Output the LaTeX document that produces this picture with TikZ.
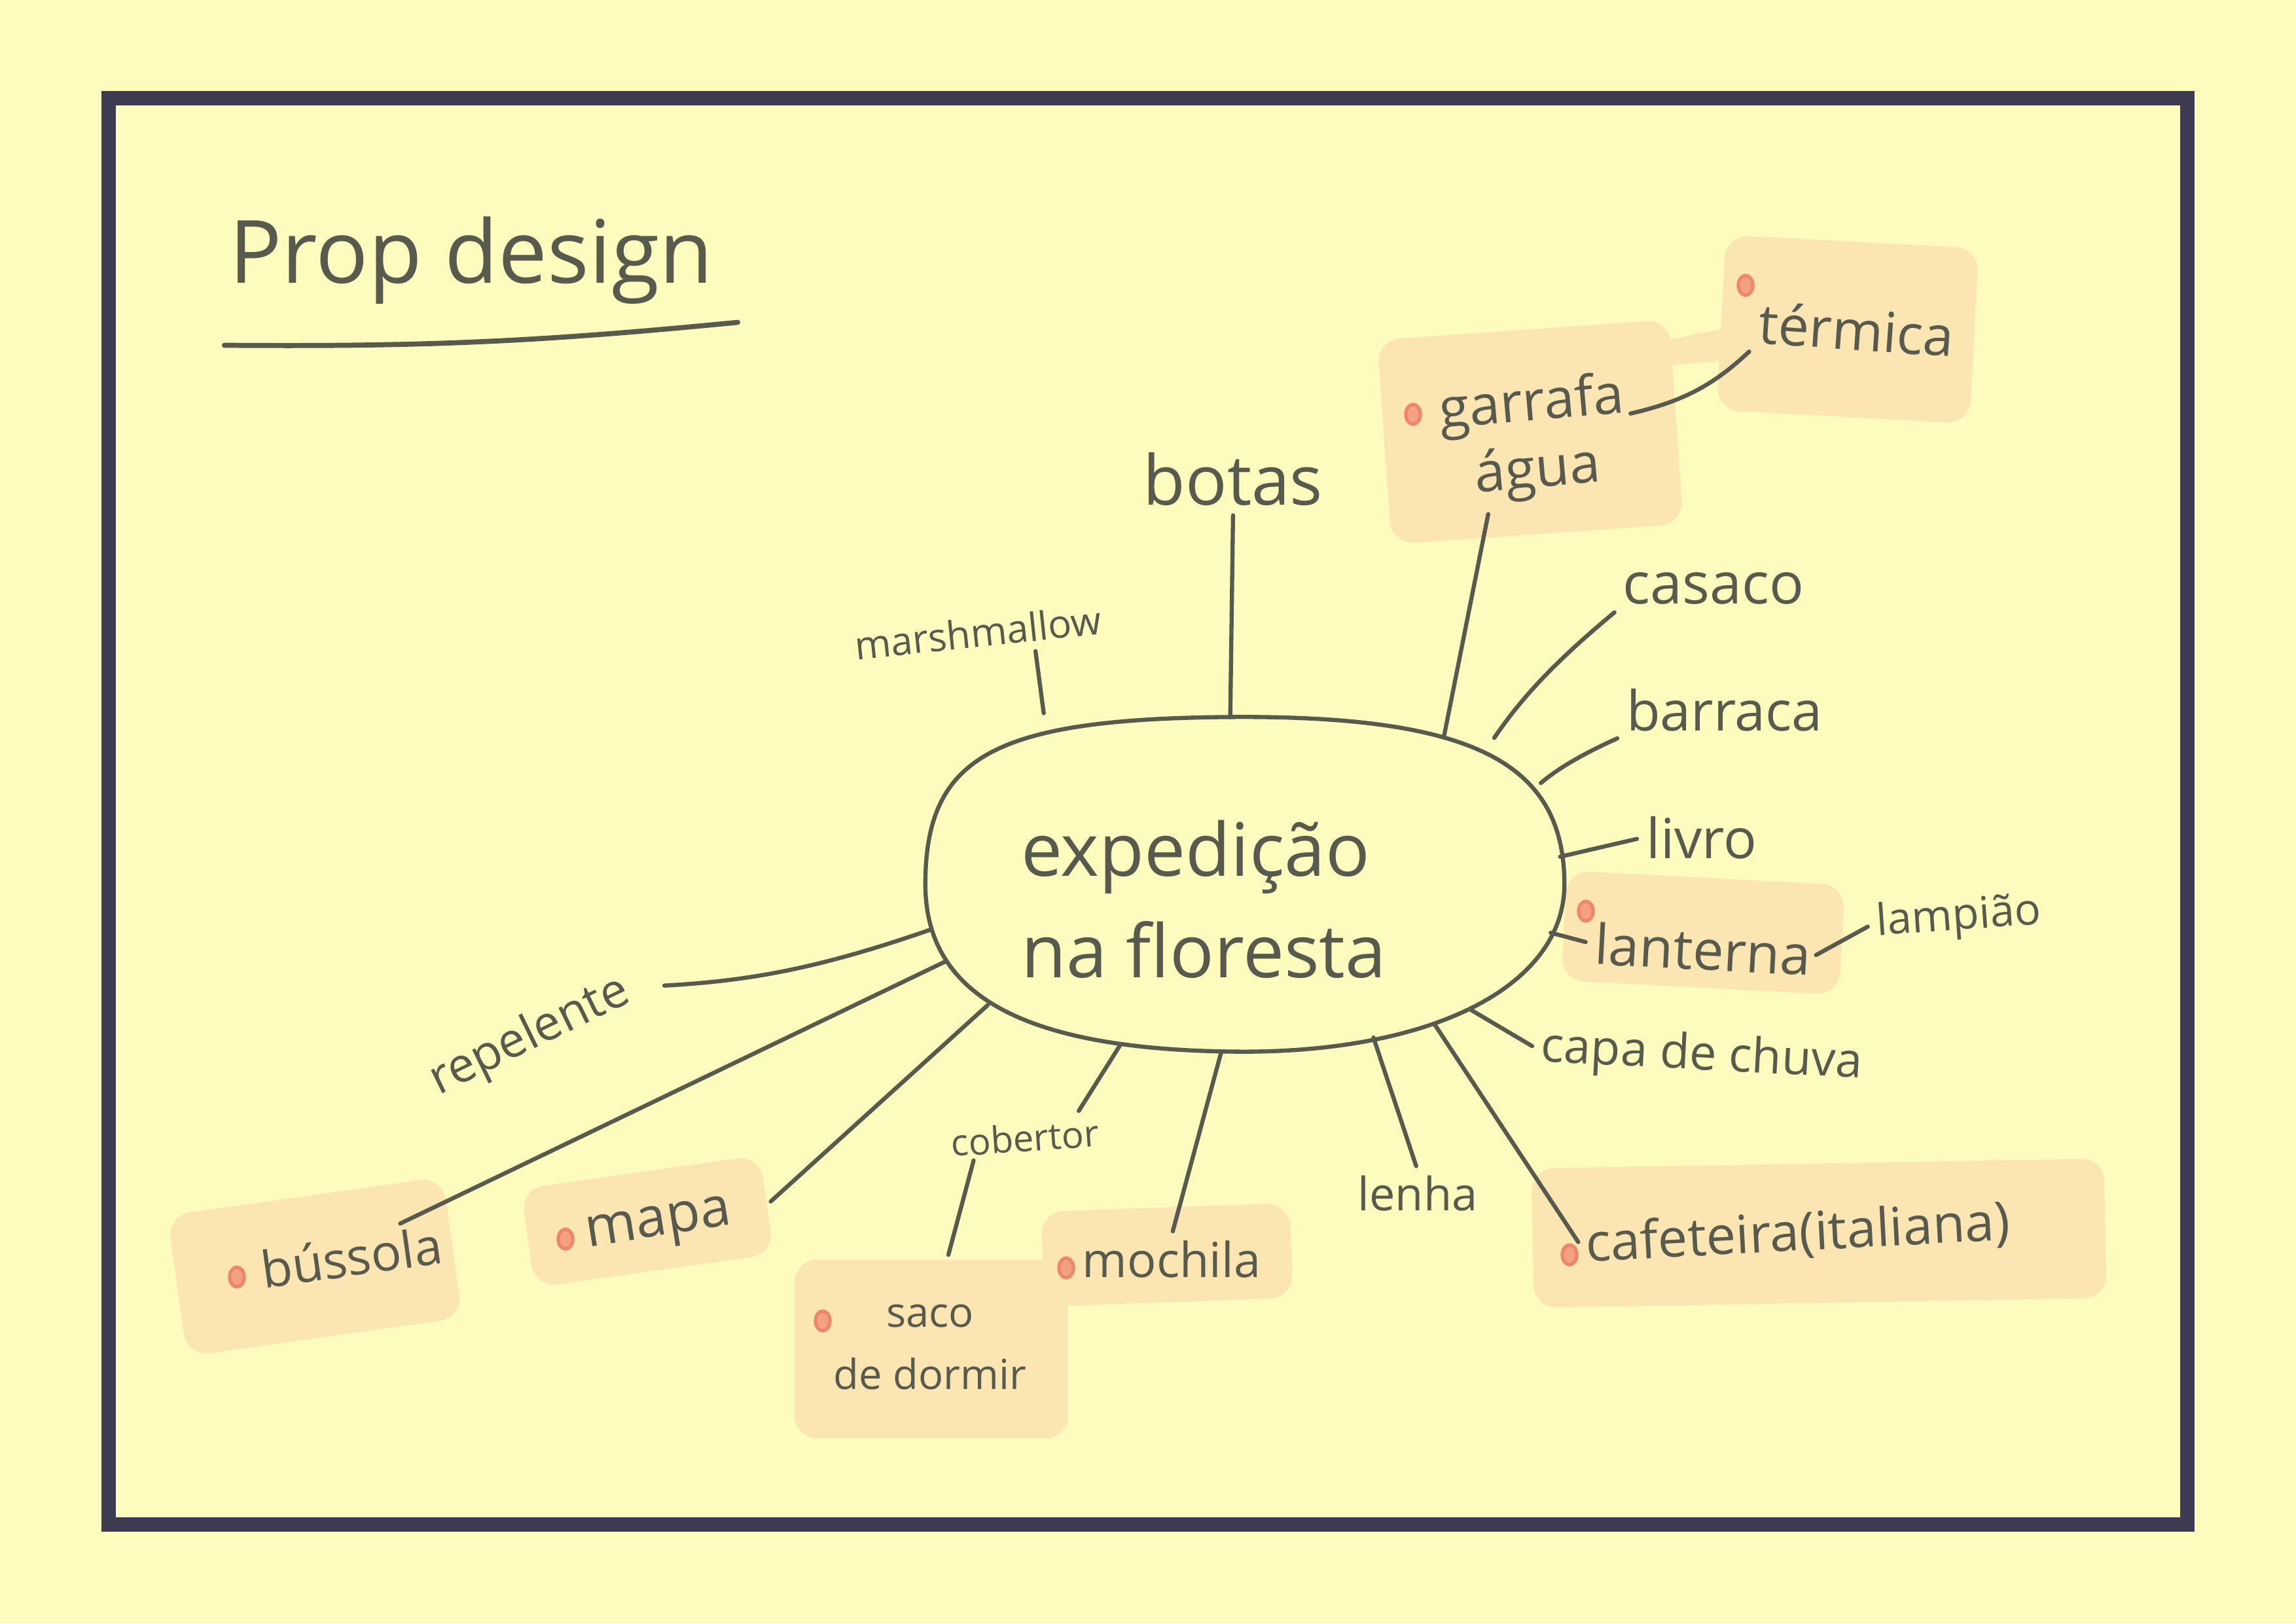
\documentclass[tikz,border=0pt]{standalone}
\usepackage{fontspec}
\setmainfont{Open Sans}
\usetikzlibrary{shapes.geometric}

\definecolor{paper}{HTML}{FEFBBE}
\definecolor{framecol}{HTML}{3E3A52}
\definecolor{ink}{HTML}{585A4D}
\definecolor{hl}{HTML}{FBE5B3}
\definecolor{pincol}{HTML}{EE866C}

\begin{document}
\begin{tikzpicture}

% Styles
\tikzset{
    lbl/.style={text=ink, inner sep=2pt},
    hub/.style={ellipse, minimum width=9.75cm, minimum height=5.1cm, inner sep=0pt},
    hubline/.style={draw=ink, line width=1.8pt},
    hubtext/.style={lbl, align=left, font=\fontsize{32}{44}\selectfont},
    hlbox/.style={fill=hl, rounded corners=0.35cm, inner sep=0pt},
    pin/.style={ellipse, draw=pincol, fill=pincol!70!hl, line width=1.5pt, minimum width=0.22cm, minimum height=0.3cm, inner sep=0pt},
    link/.style={draw=ink, line width=1.8pt, line cap=round, shorten >=2pt}
}

% Paper and frame
\useasboundingbox (0,0) rectangle (35.08,24.80);
\fill[paper] (0,0) rectangle (35.08,24.80);
\draw[framecol, line width=0.22cm] (1.66,1.51) rectangle (33.42,23.30);

% Title
\node[lbl, font=\fontsize{38}{44}\selectfont] (title) at (7.20,20.82) {Prop design};
\draw[ink, line width=2.2pt, line cap=round] ([yshift=-0.55cm]title.south west) to[bend right=3] ([xshift=0.3cm, yshift=-0.2cm]title.south east);

% Highlight boxes
\node[hlbox, minimum width=4.47cm, minimum height=3.13cm, rotate=4] (bxgarrafa) at (23.38,18.20) {};
\node[hlbox, minimum width=3.87cm, minimum height=2.68cm, rotate=-3] (bxtermica) at (28.23,19.77) {};
\fill[hl] (25.50,19.61) -- (26.45,19.80) -- (26.45,19.30) -- (25.50,19.22) -- cycle;
\node[hlbox, minimum width=4.25cm, minimum height=1.68cm, rotate=-3] (bxlanterna) at (26.02,10.55) {};
\node[hlbox, minimum width=8.75cm, minimum height=2.13cm, rotate=1] (bxcafeteira) at (27.79,5.96) {};
\node[hlbox, minimum width=3.80cm, minimum height=1.45cm, rotate=2] (bxmochila) at (17.83,5.63) {};
\node[hlbox, minimum width=4.18cm, minimum height=2.73cm] (bxsaco) at (14.23,4.19) {};
\node[hlbox, minimum width=3.69cm, minimum height=1.52cm, rotate=8] (bxmapa) at (9.89,6.14) {};
\node[hlbox, minimum width=4.25cm, minimum height=2.17cm, rotate=8] (bxbussola) at (4.81,5.45) {};

% Centre
\node[hub] (hub) at (19.02,11.29) {};
\draw[hubline] (hub.east) .. controls (23.90,13.13) and (22.53,13.84) .. (hub.north)
    .. controls (15.22,13.84) and (14.14,13.28) .. (hub.west)
    .. controls (14.14,9.56) and (15.70,8.74) .. (hub.south)
    .. controls (21.95,8.74) and (23.90,9.76) .. (hub.east) -- cycle;
\node[hubtext] (hubtxt) at (18.39,11.06) {expedição\\na floresta};

% Labels
\node[lbl, font=\fontsize{30}{36}\selectfont] (botas) at (18.84,17.48) {botas};
\node[lbl, font=\fontsize{17}{20}\selectfont, rotate=6] (marsh) at (14.94,15.14) {marshmallow};
\node[lbl, font=\fontsize{24}{29}\selectfont, align=center, rotate=5] (garrafa) at (23.45,18.09) {garrafa\\água};
\node[lbl, font=\fontsize{24}{29}\selectfont, rotate=-4] (termica) at (28.37,19.77) {térmica};
\node[lbl, font=\fontsize{25}{30}\selectfont] (casaco) at (26.18,15.81) {casaco};
\node[lbl, font=\fontsize{24}{29}\selectfont] (barraca) at (26.35,13.95) {barraca};
\node[lbl, font=\fontsize{24}{29}\selectfont] (livro) at (26.00,12.00) {livro};
\node[lbl, font=\fontsize{24}{29}\selectfont, rotate=-3] (lanterna) at (26.02,10.30) {lanterna};
\node[lbl, font=\fontsize{19}{23}\selectfont, rotate=4] (lampiao) at (29.93,10.77) {lampião};
\node[lbl, font=\fontsize{21}{25}\selectfont, rotate=-3] (capa) at (26.00,8.65) {capa de chuva};
\node[lbl, font=\fontsize{23}{28}\selectfont, rotate=3] (cafeteira) at (27.47,5.94) {cafeteira(italiana)};
\node[lbl, font=\fontsize{20}{24}\selectfont] (lenha) at (21.66,6.57) {lenha};
\node[lbl, font=\fontsize{21}{25}\selectfont] (mochila) at (17.90,5.56) {mochila};
\node[lbl, font=\fontsize{16}{19}\selectfont, rotate=4] (cobertor) at (15.66,7.42) {cobertor};
\node[lbl, font=\fontsize{18}{27}\selectfont, align=center] (saco) at (14.21,4.22) {saco\\de dormir};
\node[lbl, font=\fontsize{24}{29}\selectfont, rotate=9] (mapa) at (10.07,6.05) {mapa};
\node[lbl, font=\fontsize{22}{26}\selectfont, rotate=8] (bussola) at (5.37,5.60) {bússola};
\node[lbl, font=\fontsize{21}{25}\selectfont, rotate=26] (repelente) at (8.10,8.96) {repelente};

% Pins
\node[pin] (p1) at (21.59,18.47) {};
\node[pin] (p2) at (26.67,20.44) {};
\node[pin] (p3) at (24.23,10.88) {};
\node[pin] (p4) at (23.98,5.63) {};
\node[pin] (p5) at (16.29,5.43) {};
\node[pin] (p6) at (12.57,4.62) {};
\node[pin] (p7) at (8.64,5.87) {};
\node[pin] (p8) at (3.62,5.29) {};

% Links
\draw[link] (hub.95) -- (botas.south);
\draw[link, shorten <=0.6cm] (hub.146) -- (marsh.-20);
\draw[link, shorten <=0.25cm] (hub.34) -- (garrafa.-128);
\draw[link] (garrafa.10) to[bend right=15] (termica.south west);
\draw[link, shorten <=0.55cm] (hub.27) to[bend left=8] (casaco.south west);
\draw[link, shorten <=0.4cm] (hub.17) to[bend left=8] (barraca.south west);
\draw[link] (hub.5) -- (livro.west);
\draw[link] (hub.-9) -- (lanterna.west);
\draw[link] (lanterna.east) -- (lampiao.west);
\draw[link, shorten <=0.1cm] (hub.-29) -- (capa.west);
\draw[link, shorten <=0.08cm] (hub.-36) -- (cafeteira.west);
\draw[link] (hub.-50) -- (lenha.north);
\draw[link] (hub.-98) -- (mochila.north);
\draw[link, shorten <=0.1cm] (hub.-128) -- (cobertor.20);
\draw[link] (cobertor.-160) -- (bxsaco.80);
\draw[link, shorten <=0.28cm] (hub.-156) -- (bxmapa.east);
\draw[link, shorten <=0.2cm] (hub.-166) -- (bussola.27);
\draw[link, shorten <=0.1cm, shorten >=0.5cm] (hub.-172) to[bend left=8] (repelente.east);

\end{tikzpicture}
\end{document}
